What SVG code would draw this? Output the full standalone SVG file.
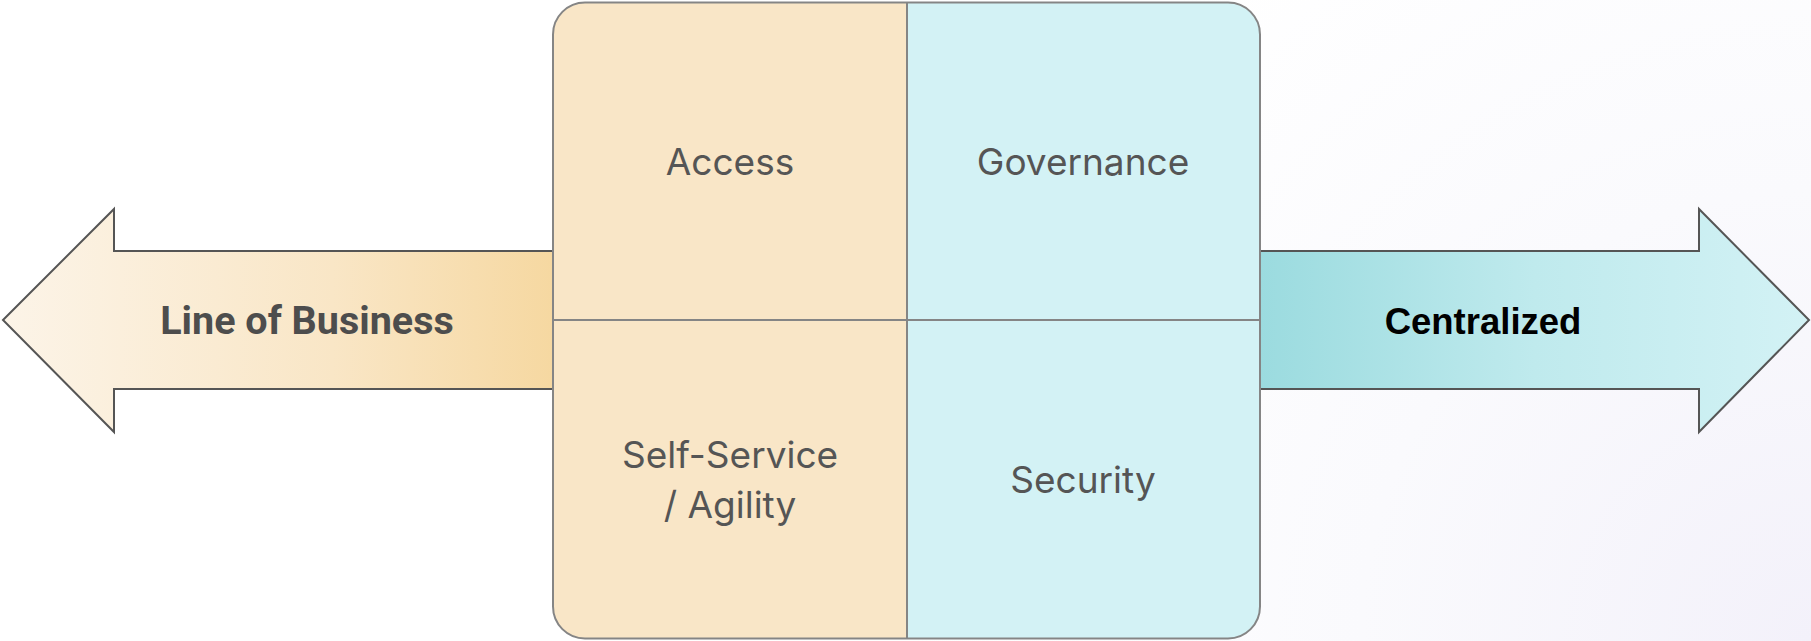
<svg xmlns="http://www.w3.org/2000/svg" width="1811" height="641" viewBox="0 0 1811 641">
<style>
.cell{font-family:Inter,"Noto Sans",sans-serif;font-size:37px;fill:#555555;text-anchor:middle}
.arrow{stroke:#555555;stroke-width:2;stroke-linejoin:miter}
.grid{stroke:#858585;stroke-width:2;fill:none}
</style>
<defs>
<radialGradient id="bg" cx="1811" cy="641" r="900" gradientUnits="userSpaceOnUse">
<stop offset="0" stop-color="#f3f1fa"/>
<stop offset="0.5" stop-color="#fafafd"/>
<stop offset="1" stop-color="#ffffff"/>
</radialGradient>
<linearGradient id="lg" x1="3" y1="0" x2="553" y2="0" gradientUnits="userSpaceOnUse">
<stop offset="0" stop-color="#fcf4e8"/>
<stop offset="0.6" stop-color="#f9e6c6"/>
<stop offset="1" stop-color="#f6d8a1"/>
</linearGradient>
<linearGradient id="rg" x1="1260" y1="0" x2="1809" y2="0" gradientUnits="userSpaceOnUse">
<stop offset="0" stop-color="#9bdbdf"/>
<stop offset="0.5" stop-color="#bfeaed"/>
<stop offset="1" stop-color="#d3f2f5"/>
</linearGradient>
<clipPath id="boxclip"><rect x="553" y="2.5" width="707" height="636" rx="32"/></clipPath>
</defs>
<rect width="1811" height="641" fill="url(#bg)"/>
<g id="connectors">
<path id="left-arrow" class="arrow" fill="url(#lg)" d="M3,320 L114,209 L114,251 L556,251 L556,389 L114,389 L114,432 Z"/>
<path id="right-arrow" class="arrow" fill="url(#rg)" d="M1257,251 L1699,251 L1699,209 L1809,320 L1699,432 L1699,389 L1257,389 Z"/>
</g>
<g id="box">
<g clip-path="url(#boxclip)">
<rect x="553" y="0" width="354" height="641" fill="#f9e6c7"/>
<rect x="907" y="0" width="355" height="641" fill="#d3f2f5"/>
</g>
<rect class="grid" x="553" y="2.5" width="707" height="636" rx="32"/>
<line class="grid" x1="907" y1="2.5" x2="907" y2="638.5"/>
<line class="grid" x1="553" y1="320" x2="1260" y2="320"/>
</g>
<g id="node-access"><text class="cell" x="730" y="175">Access</text></g>
<g id="node-governance"><text class="cell" x="1083" y="175">Governance</text></g>
<g id="node-selfservice"><text class="cell" x="730" y="468">Self-Service</text><text class="cell" x="730" y="518">/ Agility</text></g>
<g id="node-security"><text class="cell" x="1083" y="493">Security</text></g>
<g id="node-lob"><text x="307" y="334" font-family="Roboto,'Liberation Sans',sans-serif" font-weight="bold" font-size="39.5" fill="#4d4d4d" text-anchor="middle">Line of Business</text></g>
<g id="node-centralized"><text x="1483" y="334" font-family="'Liberation Sans',Arial,sans-serif" font-weight="bold" font-size="36.5" fill="#000000" text-anchor="middle">Centralized</text></g>
</svg>
